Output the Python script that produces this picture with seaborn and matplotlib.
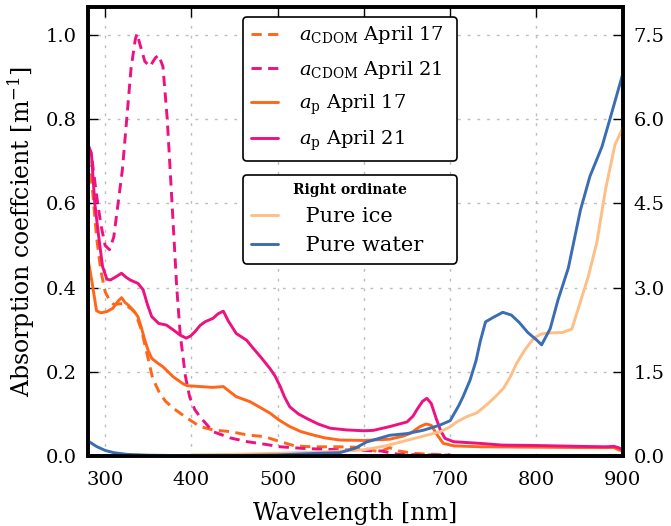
import matplotlib
matplotlib.use("Agg")
import matplotlib.pyplot as plt
import seaborn as sns
import pandas as pd

# wavelength [nm] / absorption [1/m]
wl_cdom17 = [280, 285, 290, 295, 300, 305, 310, 320, 330, 335, 342, 350, 355, 363, 370, 380,
             395, 410, 425, 445, 465, 485, 500, 520, 540, 570, 590, 605, 618, 630, 640, 660, 680, 700]
a_cdom17 = [0.71, 0.64, 0.52, 0.44, 0.39, 0.37, 0.36, 0.362, 0.35, 0.34, 0.30, 0.23, 0.185, 0.15, 0.13, 0.112,
            0.09, 0.07, 0.062, 0.058, 0.05, 0.046, 0.036, 0.024, 0.022, 0.022, 0.021, 0.016, 0.01, 0.02, 0.012, 0.006, 0.004, 0.003]

wl_cdom21 = [280, 285, 290, 295, 300, 305, 310, 315, 320, 325, 330, 335, 337, 340, 346, 352, 358, 362, 367,
             372, 377, 383, 387, 393, 398, 404, 410, 425, 445, 465, 485, 503, 530, 570, 620, 640, 660, 700]
a_cdom21 = [0.74, 0.70, 0.62, 0.55, 0.50, 0.49, 0.52, 0.60, 0.68, 0.80, 0.92, 0.99, 1.003, 0.98, 0.937, 0.925, 0.945, 0.952, 0.925,
            0.80, 0.62, 0.40, 0.29, 0.19, 0.14, 0.11, 0.093, 0.058, 0.043, 0.034, 0.028, 0.022, 0.018, 0.015, 0.012, 0.004, 0.003, 0.002]

wl_p17 = [280, 285, 290, 295, 302, 309, 315, 319, 323, 327, 333, 338, 342, 346, 350, 354, 360, 367, 379, 390,
          395, 410, 425, 437, 445, 452, 468, 480, 491, 502, 514, 527, 541, 555, 572, 600, 630, 645, 654, 665,
          672, 678, 685, 692, 705, 735, 800, 860, 890, 895, 900]
a_p17 = [0.47, 0.41, 0.345, 0.34, 0.343, 0.351, 0.368, 0.376, 0.365, 0.358, 0.345, 0.331, 0.305, 0.275, 0.25, 0.232, 0.222, 0.212, 0.188, 0.172,
         0.167, 0.165, 0.163, 0.165, 0.152, 0.141, 0.129, 0.115, 0.102, 0.085, 0.07, 0.058, 0.05, 0.043, 0.038, 0.037, 0.04, 0.047, 0.054, 0.07,
         0.076, 0.073, 0.05, 0.03, 0.024, 0.022, 0.021, 0.02, 0.02, 0.015, 0.012]

wl_p21 = [280, 284, 288, 292, 297, 302, 306, 312, 319, 324, 329, 338, 344, 349, 354, 362, 371, 380, 387, 394,
          399, 404, 410, 416, 425, 431, 437, 443, 452, 464, 472, 480, 491, 497, 503, 508, 514, 524, 534, 547,
          561, 580, 600, 611, 630, 650, 657, 662, 668, 673, 678, 684, 689, 694, 704, 735, 760, 800, 850, 880,
          890, 895, 900]
a_p21 = [0.74, 0.72, 0.60, 0.53, 0.45, 0.42, 0.418, 0.425, 0.434, 0.425, 0.418, 0.41, 0.395, 0.36, 0.331, 0.315, 0.311, 0.298, 0.287, 0.28,
         0.285, 0.295, 0.31, 0.319, 0.327, 0.338, 0.344, 0.32, 0.291, 0.275, 0.255, 0.236, 0.208, 0.19, 0.165, 0.14, 0.117, 0.1, 0.089, 0.076,
         0.066, 0.062, 0.06, 0.061, 0.07, 0.081, 0.095, 0.112, 0.13, 0.137, 0.125, 0.088, 0.06, 0.042, 0.034, 0.03, 0.026, 0.025, 0.023, 0.022,
         0.023, 0.02, 0.015]

# right ordinate
wl_water = [280, 290, 300, 310, 325, 350, 400, 450, 500, 550, 572, 590, 603, 630, 650, 669, 688, 700, 710, 715,
            723, 730, 735, 741, 750, 761, 771, 780, 790, 800, 806, 816, 825, 837, 851, 862, 876, 885, 900]
a_water = [0.27, 0.17, 0.1, 0.06, 0.03, 0.015, 0.006, 0.009, 0.02, 0.05, 0.06, 0.14, 0.25, 0.37, 0.40, 0.46, 0.55, 0.63, 0.9, 1.06,
           1.35, 1.7, 2.05, 2.39, 2.47, 2.56, 2.51, 2.38, 2.2, 2.07, 1.98, 2.27, 2.78, 3.35, 4.38, 4.98, 5.51, 5.99, 6.8]

wl_ice = [400, 450, 500, 550, 600, 625, 650, 670, 688, 700, 708, 719, 731, 742, 752, 762, 770, 777, 787, 797,
          805, 812, 830, 841, 852, 860, 870, 880, 891, 900]
a_ice = [0.02, 0.03, 0.05, 0.07, 0.11, 0.18, 0.28, 0.36, 0.43, 0.52, 0.61, 0.70, 0.77, 0.91, 1.05, 1.21, 1.42, 1.65, 1.9, 2.10,
         2.17, 2.19, 2.2, 2.26, 2.8, 3.19, 3.8, 4.74, 5.54, 5.84]

orange = "#ff661a"
pink = "#ee1180"
ice_col = "#fdbf85"
water_col = "#3a6db4"

sns.set_theme(style="white")
plt.rcParams["font.family"] = ["DejaVu Serif"]
plt.rcParams["mathtext.fontset"] = "dejavuserif"
plt.rcParams["text.color"] = "black"
plt.rcParams["axes.labelcolor"] = "black"
plt.rcParams["xtick.color"] = "black"
plt.rcParams["ytick.color"] = "black"

fig = plt.figure(figsize=(6.71, 5.26), dpi=100)
ax = fig.add_axes([0.131, 0.133, 0.797, 0.854])
ax2 = ax.twinx()

lw = 2.1
sns.lineplot(x=wl_cdom17, y=a_cdom17, ax=ax, color=orange, lw=lw,
             label=r"$a_{\mathrm{CDOM}}$ April 17")
sns.lineplot(x=wl_cdom21, y=a_cdom21, ax=ax, color=pink, lw=lw,
             label=r"$a_{\mathrm{CDOM}}$ April 21")
sns.lineplot(x=wl_p17, y=a_p17, ax=ax, color=orange, lw=lw, label=r"$a_{\mathrm{p}}$ April 17")
sns.lineplot(x=wl_p21, y=a_p21, ax=ax, color=pink, lw=lw, label=r"$a_{\mathrm{p}}$ April 21")
for ln in ax.lines[:2]:
    ln.set_linestyle((0, (3.5, 2.2)))

sns.lineplot(x=wl_ice, y=a_ice, ax=ax2, color=ice_col, lw=lw, label="Pure ice")
sns.lineplot(x=wl_water, y=a_water, ax=ax2, color=water_col, lw=lw, label="Pure water")

ax.set_xlim(280, 900)
ax.set_ylim(0, 8 / 7.5)
ax2.set_ylim(0, 8)
ax.set_yticks([0.0, 0.2, 0.4, 0.6, 0.8, 1.0])
ax2.set_yticks([0.0, 1.5, 3.0, 4.5, 6.0, 7.5])
ax.set_xticks(range(300, 901, 100))

ax.set_xlabel("Wavelength [nm]", fontsize=17, labelpad=9)
ax.set_ylabel(r"Absorption coeffcient [m$^{-1}$]", fontsize=17, labelpad=6)

ax.grid(True, color="#bdbdbd", linestyle=(0, (2, 5)), lw=1)
ax.tick_params(axis="both", direction="in", length=7, width=1, labelsize=14)
ax.tick_params(axis="x", top=True, pad=11)
ax.tick_params(axis="y", right=False, pad=8)
ax2.tick_params(axis="y", direction="in", length=7, width=1, labelsize=14, pad=8)
for a in (ax, ax2):
    for sp in a.spines.values():
        sp.set_linewidth(2.6)
        sp.set_color("black")

h1, l1 = ax.get_legend_handles_labels()
h2, l2 = ax2.get_legend_handles_labels()
ax.get_legend().remove()
ax2.get_legend().remove()

leg1 = ax2.legend(h1, l1, loc="upper left", bbox_to_anchor=(0.29, 0.0, 0.40, 0.978), mode="expand",
                  borderaxespad=0, fontsize=14, handlelength=1.4, handletextpad=1.1, labelspacing=0.62,
                  frameon=True, fancybox=True, edgecolor="black", framealpha=1)
leg1.get_frame().set_linewidth(1.2)
ax2.add_artist(leg1)
leg2 = ax2.legend(h2, [" " + s for s in l2], loc="upper left", bbox_to_anchor=(0.29, 0.0, 0.40, 0.626),
                  mode="expand", borderaxespad=0, fontsize=15, handlelength=1.3, handletextpad=1.0,
                  labelspacing=0.48, title="Right ordinate", frameon=True, fancybox=True,
                  edgecolor="black", framealpha=1)
leg2.get_title().set_fontweight("bold")
leg2.get_title().set_fontsize(10)
leg2.get_frame().set_linewidth(1.2)

fig.savefig("out.png", dpi=100)
